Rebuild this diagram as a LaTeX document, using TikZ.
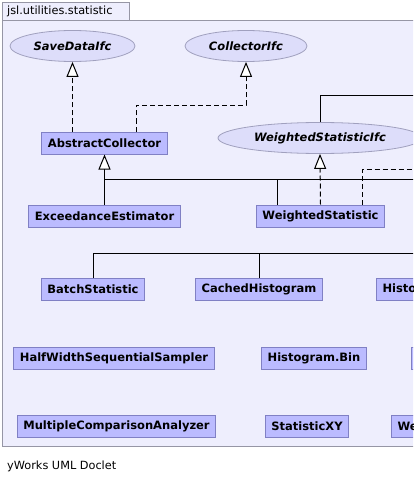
\documentclass[tikz,border=0pt]{standalone}
\usepackage{fontspec}
\usetikzlibrary{shapes.geometric}
\usetikzlibrary{arrows.meta}
\newfontfamily\umlfont{DejaVu Sans}
\definecolor{framefill}{RGB}{238,238,253}
\definecolor{frameline}{RGB}{150,150,165}
\definecolor{boxfill}{RGB}{187,187,255}
\definecolor{boxline}{RGB}{128,128,196}
\definecolor{ifcfill}{RGB}{221,221,250}
\definecolor{ifcline}{RGB}{160,160,190}

\begin{document}
\begin{tikzpicture}[%
    x=1pt, y=-1pt,
classbox/.style={rectangle, align=center, draw=boxline, fill=boxfill, line width=1pt, inner xsep=6pt, minimum height=22pt, font=\umlfont\bfseries\fontsize{11.5}{13}\selectfont},
ifcnode/.style={ellipse, align=center, draw=ifcline, fill=ifcfill, line width=0.8pt, minimum height=31pt, font=\umlfont\bfseries\itshape\fontsize{11.5}{13}\selectfont},
inherit/.style={line width=1pt, -{Triangle[fill=white, length=15pt, width=12pt]}},
realize/.style={line width=1pt, dash pattern=on 5pt off 3pt, -{Triangle[fill=white, length=15pt, width=12pt]}},
bus/.style={line width=1pt},
dashbus/.style={line width=1pt, dash pattern=on 5pt off 3pt},
]
\clip (0,0) rectangle (413,484);
\fill[white] (0,0) rectangle (413,484);

% Package frame
\draw[frameline, fill=framefill, line width=0.8pt] (2,2) rectangle (129,20);
\draw[frameline, fill=framefill, line width=0.8pt] (2,20) rectangle (440,446);
\node[anchor=west, inner sep=0, font=\umlfont\fontsize{11.3}{13}\selectfont] (pkgname) at (7,11) {jsl.utilities.statistic};

% Interface Nodes
\node[ifcnode, minimum width=125pt] (savedata)  at (72.5,46) {SaveDataIfc};
\node[ifcnode, minimum width=122pt] (collector) at (246,46)  {CollectorIfc};
\node[ifcnode, minimum width=204pt] (wsifc)     at (320,138) {WeightedStatisticIfc};

% Class Nodes
\node[classbox] (abstractcollector) at (104.5,143) {AbstractCollector};
\node[classbox] (exceedance)        at (104.5,216) {ExceedanceEstimator};
\node[classbox] (weighted)          at (320.5,216) {WeightedStatistic};

\node[classbox] (batch)  at (93,289.5)  {BatchStatistic};
\node[classbox] (cached) at (259,289.5) {CachedHistogram};
\node[classbox, anchor=west, text width=80pt, align=left] (histogram) at (376,289.5) {Histogram};

\node[classbox] (halfwidth) at (114,358) {HalfWidthSequentialSampler};
\node[classbox] (histbin)   at (314,358) {Histogram.Bin};
\node[classbox, anchor=west, minimum width=60pt] (hiddenbox) at (411,358) {};

\node[classbox] (multiple)    at (116.5,426) {MultipleComparisonAnalyzer};
\node[classbox] (statisticxy) at (307,426)   {StatisticXY};
\node[classbox, anchor=west, text width=60pt, align=left] (weout) at (391,426) {We};

% Free ends (off to the right)
\coordinate (acbus)     at (104.5,179);
\coordinate (acbusend)  at (430,179);
\coordinate (wsout)     at (430,169);
\coordinate (wsifcout)  at (430,96);
\coordinate (batchbus)  at (430,253);

% Lines
\draw[realize] (savedata.south |- abstractcollector.north) -- (savedata.south);
\draw[realize] ([xshift=31.5pt]abstractcollector.north) -- ++(0,-26) -| (collector.south);

\draw[inherit] (exceedance.north) -- (abstractcollector.south);
\draw[bus] (acbus) -- (acbusend);
\draw[bus] ([xshift=-43.5pt]weighted.north) |- (acbus);

\draw[realize] (weighted.north) -- (wsifc.south);
\draw[dashbus] ([xshift=41.5pt]weighted.north) |- (wsout);
\draw[bus] (wsifc.north) |- (wsifcout);

\draw[bus] (batch.north) |- (batchbus);
\draw[bus] (cached.north) -- (cached.north |- batchbus);

% Footer
\node[anchor=west, inner sep=0, font=\umlfont\fontsize{11.3}{13}\selectfont] (footer) at (7,466) {yWorks UML Doclet};

\end{tikzpicture}
\end{document}
